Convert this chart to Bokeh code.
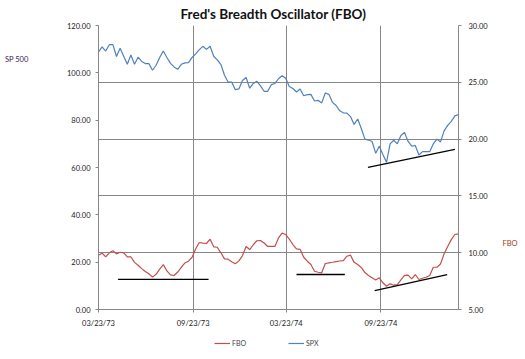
import pandas as pd
from bokeh.plotting import figure
from bokeh.layouts import column
from bokeh.models import (Range1d, LinearAxis, FixedTicker, NumeralTickFormatter,
                          DatetimeTickFormatter, Grid, Legend, LegendItem)
from bokeh.embed import file_html
from bokeh.resources import INLINE

# ---------------- data ----------------
start_date = "1973-03-23"
n_weeks = 101
dates = pd.date_range(start_date, periods=n_weeks, freq="7D")

spx = [108.8, 111.0, 109.2, 111.9, 111.9, 106.9, 110.4, 107.0, 103.6, 107.5,
       103.6, 106.6, 104.8, 103.9, 103.9, 101.1, 103.2, 106.5, 109.2, 106.5,
       104.0, 102.5, 101.5, 103.6, 104.2, 104.3, 106.5, 108.0, 109.8, 111.2,
       109.9, 111.2, 107.0, 105.5, 103.5, 99.0, 96.1, 96.1, 92.9, 93.2,
       96.8, 98.0, 93.5, 95.5, 96.4, 94.5, 92.2, 92.2, 95.0, 95.5,
       97.5, 98.8, 97.7, 94.2, 93.4, 91.9, 93.2, 90.3, 90.8, 90.9,
       88.1, 88.4, 87.3, 91.5, 90.9, 87.5, 86.2, 84.0, 83.1, 83.0,
       81.5, 78.2, 80.5, 76.5, 72.0, 71.6, 71.0, 66.0, 69.0, 65.5,
       62.2, 70.0, 71.5, 70.0, 73.5, 74.8, 71.0, 69.0, 69.3, 65.3,
       66.7, 66.7, 66.7, 70.0, 72.0, 70.8, 75.5, 77.8, 79.5, 81.8, 82.4]

fbo = [9.78, 9.96, 9.64, 9.99, 10.17, 9.90, 10.04, 9.99, 9.64, 9.64,
       9.15, 8.90, 8.60, 8.35, 8.15, 7.85, 8.10, 8.55, 8.96, 8.40,
       8.05, 7.99, 8.30, 8.70, 9.10, 9.25, 9.60, 10.35, 10.90, 10.85,
       10.81, 11.19, 10.52, 10.48, 9.99, 9.46, 9.43, 9.20, 9.02, 9.28,
       9.75, 10.55, 10.28, 10.70, 11.05, 11.07, 10.85, 10.55, 10.55, 10.55,
       11.30, 11.72, 11.60, 11.20, 10.72, 10.34, 10.30, 9.60, 9.25, 8.96,
       8.37, 8.28, 8.23, 9.05, 9.11, 9.16, 9.22, 9.27, 9.31, 9.69,
       9.78, 9.15, 8.96, 8.70, 8.25, 7.99, 7.80, 7.60, 7.79, 7.35,
       7.05, 7.26, 7.14, 7.20, 7.60, 8.00, 8.02, 7.70, 8.08, 7.64,
       7.75, 7.84, 8.00, 8.72, 8.72, 9.00, 9.90, 10.55, 11.15, 11.60, 11.66]

x_tick_dates = ["1973-03-23", "1973-09-23", "1974-03-23", "1974-09-23"]
spx_ticks = [0, 20, 40, 60, 80, 100, 120]
fbo_ticks = [5, 10, 15, 20, 25, 30]
fbo_grid_ticks = [10, 15, 20, 25]

# hand-drawn trend lines (dates, values)
fbo_trend1_dates = ["1973-04-30", "1973-10-23"]
fbo_trend1_values = [7.65, 7.65]
fbo_trend2_dates = ["1974-04-12", "1974-07-15"]
fbo_trend2_values = [8.08, 8.08]
fbo_trend3_dates = ["1974-09-11", "1975-01-30"]
fbo_trend3_values = [6.67, 8.08]
spx_trend_dates = ["1974-08-29", "1975-02-14"]
spx_trend_values = [60.1, 67.7]

title_text = "Fred's Breadth Oscillator (FBO)"
left_label = "SP 500"
right_label = "FBO"
series_names = ["FBO", "SPX"]
series_colors = ["#C0504D", "#4F81BD"]

# ---------------- figure ----------------
def ms(d):
    return pd.Timestamp(d).value / 1e6

FONT = "Lato"
GRID = "#878787"

p = figure(width=525, height=330, x_axis_type="datetime",
           x_range=Range1d(ms(dates[0]), ms(dates[-1])), y_range=Range1d(0, 120),
           output_backend="svg", toolbar_location=None,
           min_border_left=98, min_border_right=67, min_border_top=25, min_border_bottom=20)
p.outline_line_color = None
p.background_fill_color = "white"
p.border_fill_color = "white"

p.title.text = title_text
p.title.text_font = FONT
p.title.text_font_style = "bold"
p.title.text_font_size = "13.5px"
p.title.align = "left"
p.title.offset = 82
p.title.standoff = 7
p.title.text_color = "#111111"

p.extra_y_ranges = {"fbo": Range1d(5, 30)}

# x axis
xticker = FixedTicker(ticks=[ms(d) for d in x_tick_dates])
xa = p.xaxis[0]
xa.ticker = xticker
fmt = "%m/%d/%y"
xa.formatter = DatetimeTickFormatter(milliseconds=fmt, seconds=fmt, minsec=fmt, minutes=fmt,
                                     hourmin=fmt, hours=fmt, days=fmt, months=fmt, years=fmt)

# left axis
ya = p.yaxis[0]
ya.ticker = FixedTicker(ticks=spx_ticks)
ya.formatter = NumeralTickFormatter(format="0.00")

# right axis
ra = LinearAxis(y_range_name="fbo", ticker=FixedTicker(ticks=fbo_ticks),
                formatter=NumeralTickFormatter(format="0.00"))
p.add_layout(ra, "right")

for ax, standoff in ((xa, 6), (ya, 5), (ra, 7)):
    ax.axis_line_color = GRID
    ax.major_tick_line_color = GRID
    ax.major_tick_out = 3
    ax.major_tick_in = 0
    ax.minor_tick_line_color = None
    ax.major_label_text_font = FONT
    ax.major_label_text_font_size = "7.5px"
    ax.major_label_text_color = "#1a1a1a"
    ax.major_label_standoff = standoff

# axis titles (label-only axes placed outside the value axes);
# blank lines push the single visible line up/down from the frame middle
def title_axis(text, color, standoff, rng=None):
    kw = {"y_range_name": rng} if rng else {}
    a = LinearAxis(ticker=FixedTicker(ticks=[]), axis_label=text,
                   axis_label_orientation="horizontal", axis_label_standoff=standoff,
                   axis_label_text_font=FONT, axis_label_text_font_size="7.5px",
                   axis_label_text_line_height=1.2,
                   axis_label_text_font_style="normal", axis_label_text_color=color,
                   axis_line_color=None, major_tick_line_color=None,
                   major_tick_out=0, major_tick_in=0, major_label_standoff=0,
                   minor_tick_line_color=None, **kw)
    return a

p.add_layout(title_axis(left_label + "\n " * 20, "#3a2050", 35), "left")
p.add_layout(title_axis(" \n" * 14 + right_label, "#a0401a", 12, "fbo"), "right")

# grids
p.xgrid.ticker = xticker
p.xgrid.grid_line_color = GRID
p.ygrid.visible = False
p.add_layout(Grid(dimension=1, ticker=FixedTicker(ticks=fbo_grid_ticks),
                  y_range_name="fbo", grid_line_color=GRID))

# series
p.line(dates, fbo, y_range_name="fbo", line_color=series_colors[0], line_width=1.2)
p.line(dates, spx, line_color=series_colors[1], line_width=1.2)

# trend lines
for td, tv, rn in ((fbo_trend1_dates, fbo_trend1_values, "fbo"),
                   (fbo_trend2_dates, fbo_trend2_values, "fbo"),
                   (fbo_trend3_dates, fbo_trend3_values, "fbo"),
                   (spx_trend_dates, spx_trend_values, "default")):
    p.line(pd.to_datetime(td), tv, y_range_name=rn, line_color="black", line_width=1.3)

# ---------------- legend strip ----------------
lg = figure(width=525, height=29, x_range=Range1d(0, 1), y_range=Range1d(0, 1),
            output_backend="svg", toolbar_location=None,
            x_axis_location=None, y_axis_location=None,
            min_border_left=0, min_border_right=0, min_border_top=0, min_border_bottom=0)
lg.outline_line_color = None
lg.grid.visible = False
items = []
for name, col in zip(series_names, series_colors):
    # stand-in renderer kept outside the strip's view; only its legend swatch shows
    r = lg.line(x=[5, 6], y=[5, 5], line_color=col, line_width=1.2)
    items.append(LegendItem(label=name, renderers=[r]))
legend = Legend(items=items, orientation="horizontal", location=(116, 11),
                label_text_font=FONT, label_text_font_size="7px",
                glyph_width=16, glyph_height=10, label_height=10,
                label_standoff=2, spacing=36, padding=0, margin=0,
                border_line_color=None, background_fill_alpha=0)
lg.add_layout(legend, "center")

layout = column(p, lg, spacing=0)
open("out.html", "w").write(file_html(layout, INLINE))
